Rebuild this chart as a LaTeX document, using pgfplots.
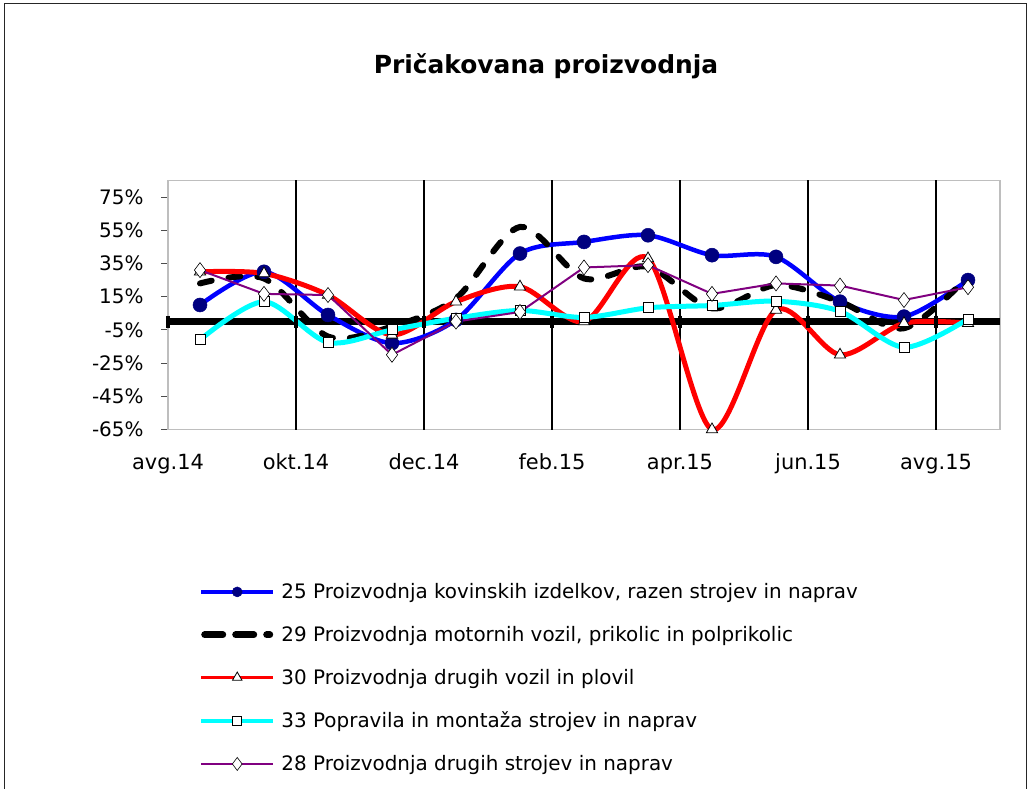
\documentclass[border=0pt]{standalone}
\usepackage{fontspec}
\setmainfont{DejaVu Sans}
\usepackage{pgfplots}
\pgfplotsset{compat=1.18}
\definecolor{navy}{RGB}{0,0,128}
\definecolor{purp}{RGB}{128,0,128}
\definecolor{cyn}{RGB}{0,255,255}
\definecolor{axgray}{RGB}{190,190,190}

\pgfplotstableread{
x  b25  b29  r30  c33  p28
0  10   23   30   -11   31
1  30   26   29   12    16.7
2  4    -9   16   -12.5 16
3  -13  -3   -8   -5    -20
4  1    14   12   2     0
5  41   57   21   6.7   5.8
6  48   26   0    2.5   32.6
7  52   33   38   8.3   34
8  40   8    -65  9.7   16.7
9  39   22   7    12.3  23
10 12   12   -20  6.2   21.7
11 3    -4   -1   -15.5 13
12 25   27   -1   1.6   20.7
}\datatable

\begin{document}
\begin{tikzpicture}
\path[use as bounding box] (0bp,0bp) rectangle (1032bp,789bp);
\draw[line width=1bp, black!85] (4bp,-5bp)--(4bp,785bp)--(1026bp,785bp)--(1026bp,-5bp);
\node[font=\fontsize{25}{30}\selectfont\bfseries, anchor=base] at (546bp,715bp) {Pričakovana proizvodnja};
\begin{axis}[
  at={(168bp,359.5bp)}, anchor=south west,
  scale only axis, width=832bp, height=249bp,
  xmin=-0.5, xmax=12.5, ymin=-65, ymax=85,
  axis line style={draw=axgray, line width=1.5bp},
  xtick={-0.5,1.5,3.5,5.5,7.5,9.5,11.5},
  xticklabels={avg.14,okt.14,dec.14,feb.15,apr.15,jun.15,avg.15},
  xtick style={draw=none},
  extra x ticks={1.5,3.5,5.5,7.5,9.5,11.5},
  extra x tick labels={},
  extra x tick style={grid=major, major grid style={black, line width=1.3bp}, tick style={draw=none}},
  ytick={-65,-45,-25,-5,15,35,55,75},
  yticklabels={-65\%,-45\%,-25\%,-5\%,15\%,35\%,55\%,75\%},
  ytick pos=left, tick align=outside,
  ytick style={draw=black!70, line width=1bp},
  major tick length=7bp,
  xticklabel style={font=\fontsize{21}{25}\selectfont, yshift=-14bp},
  yticklabel style={font=\fontsize{20}{24}\selectfont, xshift=-14bp},
  clip=false,
  legend style={at={(axis description cs:0.037,-0.61)}, anchor=north west, draw=none, fill=none,
     font=\fontsize{20}{24}\selectfont, row sep=22.2bp, inner sep=0pt,
     /tikz/every odd column/.append style={column sep=4bp}},
  legend cell align=left,
]
% zero axis line
\addplot[black, line width=7.5bp, forget plot] coordinates {(-0.5,0) (12.5,0)};
\addplot[only marks, mark=|, mark size=6bp, mark options={line width=4bp, black}, forget plot]
  coordinates {(-0.5,0) (1.5,0) (3.5,0) (5.5,0) (7.5,0) (9.5,0) (11.5,0)};

\addplot[blue, line width=4.5bp, smooth, mark=*, mark size=7bp, mark options={fill=navy, draw=navy, line width=0.5bp},
  legend image code/.code={\draw[line width=3.5bp, mark repeat=2, mark phase=2, mark size=5bp] plot coordinates {(0bp,0bp) (36bp,0bp) (72bp,0bp)};}]
  table[x=x, y=b25] {\datatable};
\addlegendentry{25 Proizvodnja kovinskih izdelkov, razen strojev in naprav}

\addplot[black, line width=6bp, smooth, line cap=round, dash pattern=on 12bp off 17bp,
  legend image code/.code={\draw[line width=7bp, line cap=round, dash pattern=on 18bp off 13bp] (3.5bp,0bp) -- (68.5bp,0bp);}]
  table[x=x, y=b29] {\datatable};
\addlegendentry{29 Proizvodnja motornih vozil, prikolic in polprikolic}

\addplot[red, line width=5bp, smooth, mark=triangle*, mark size=6.5bp, mark options={fill=white, draw=black, line width=0.8bp, solid},
  legend image code/.code={\draw[line width=3.5bp, mark repeat=2, mark phase=2, mark size=5.5bp] plot coordinates {(0bp,0bp) (36bp,0bp) (72bp,0bp)};}]
  table[x=x, y=r30] {\datatable};
\addlegendentry{30 Proizvodnja drugih vozil in plovil}

\addplot[cyn, line width=5bp, smooth, mark=square*, mark size=5bp, mark options={fill=white, draw=black, line width=0.8bp, solid},
  legend image code/.code={\draw[line width=4.5bp, mark repeat=2, mark phase=2, mark size=4.5bp] plot coordinates {(0bp,0bp) (36bp,0bp) (72bp,0bp)};}]
  table[x=x, y=c33] {\datatable};
\addlegendentry{33 Popravila in montaža strojev in naprav}

\addplot[purp, line width=2bp, mark=diamond*, mark size=7.5bp, mark options={fill=white, draw=black, line width=0.6bp, solid},
  legend image code/.code={\draw[line width=2bp, mark repeat=2, mark phase=2, mark size=6.5bp] plot coordinates {(0bp,0bp) (36bp,0bp) (72bp,0bp)};}]
  table[x=x, y=p28] {\datatable};
\addlegendentry{28 Proizvodnja drugih strojev in naprav}
\end{axis}
\end{tikzpicture}
\end{document}
